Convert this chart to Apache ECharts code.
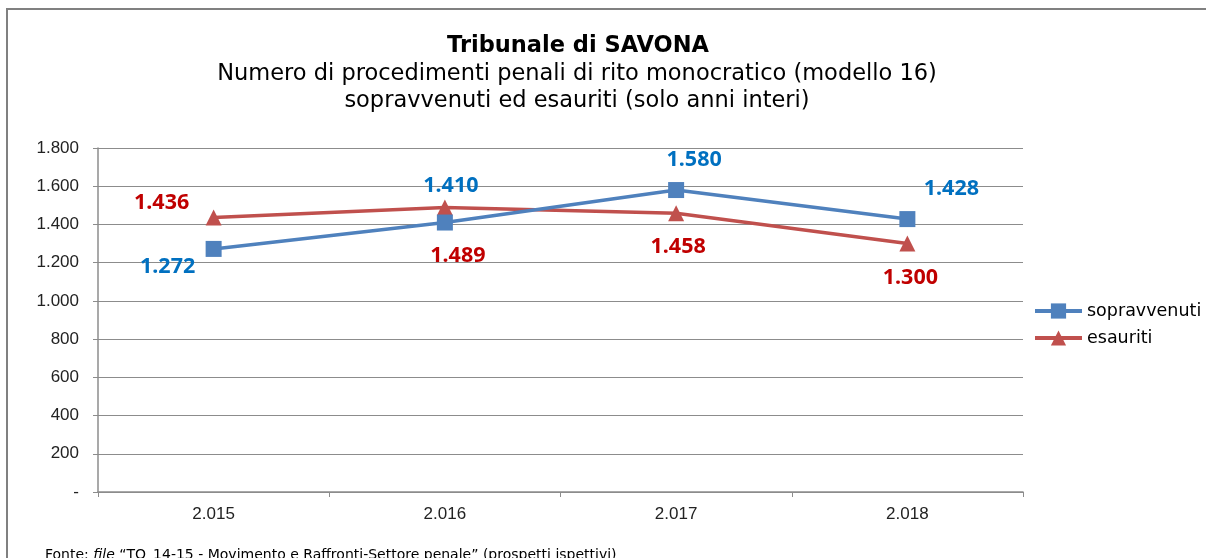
<!DOCTYPE html>
<html>
<head>
<meta charset="utf-8">
<title>Tribunale di SAVONA</title>
<script src="https://cdn.jsdelivr.net/npm/echarts@6/dist/echarts.min.js"></script>
<style>
  html, body { margin: 0; padding: 0; background: #fff; }
  #chart { width: 1206px; height: 558px; }
</style>
</head>
<body>
<div id="chart"></div>
<script>
// anni (etichette asse x)
var anni = ["2.015", "2.016", "2.017", "2.018"];
// procedimenti sopravvenuti ed esauriti
var sopravvenuti = [1272, 1410, 1580, 1428];
var esauriti = [1436, 1489, 1458, 1300];
// spostamento delle etichette rispetto al punto
var offSopr = [[-46, 18], [6, -37], [18, -30], [44, -30]];
var offEsau = [[-52, -15], [13, 48], [2, 34], [3, 34]];

function fmt(v) {
  if (v === 0) return "-";
  return String(v).replace(/\B(?=(\d{3})+(?!\d))/g, ".");
}

function punti(values, offsets) {
  return values.map(function (v, i) {
    return { value: v, label: { offset: offsets[i] } };
  });
}

var chart = echarts.init(document.getElementById("chart"));
var option = {
  animation: false,
  backgroundColor: "#fff",
  graphic: [
    {
      type: "rect",
      shape: { x: 7, y: 9, width: 1260, height: 620 },
      style: { fill: "none", stroke: "#808080", lineWidth: 2 },
      silent: true
    },
    {
      type: "text", x: 578, y: 46,
      style: {
        text: "Tribunale di SAVONA", align: "center", verticalAlign: "middle",
        font: "bold 22.5px 'DejaVu Sans'", fill: "#000"
      }
    },
    {
      type: "text", x: 577, y: 74,
      style: {
        text: "Numero di procedimenti penali di rito monocratico (modello 16)",
        align: "center", verticalAlign: "middle",
        font: "22.5px 'DejaVu Sans'", fill: "#000"
      }
    },
    {
      type: "text", x: 577, y: 101,
      style: {
        text: "sopravvenuti ed esauriti (solo anni interi)",
        align: "center", verticalAlign: "middle",
        font: "22.5px 'DejaVu Sans'", fill: "#000"
      }
    },
    {
      type: "text", x: 45, y: 555,
      style: {
        text: "Fonte: {i|file} \u201cTO_14-15 - Movimento e Raffronti-Settore penale\u201d (prospetti ispettivi)",
        verticalAlign: "middle",
        font: "14px 'DejaVu Sans'", fill: "#000",
        rich: { i: { fontStyle: "italic", fontFamily: "DejaVu Sans", fontSize: 14 } }
      }
    }
  ],
  legend: {
    orient: "vertical",
    left: 1028,
    top: 297,
    itemWidth: 47,
    itemHeight: 19,
    itemGap: 9,
    lineStyle: { width: 4 },
    textStyle: { fontFamily: "DejaVu Sans", fontSize: 17.5, color: "#000" },
    data: ["sopravvenuti", "esauriti"]
  },
  grid: { left: 98, right: 183, top: 148, bottom: 66, containLabel: false },
  xAxis: {
    type: "category",
    data: anni,
    boundaryGap: true,
    axisLine: { lineStyle: { color: "#8c8c8c", width: 1.5 } },
    axisTick: { show: true, length: 5, lineStyle: { color: "#8c8c8c" } },
    axisLabel: { fontFamily: "Liberation Sans", fontSize: 17, color: "#222", margin: 14 }
  },
  yAxis: {
    type: "value",
    min: 0,
    max: 1800,
    interval: 200,
    axisLine: { show: true, lineStyle: { color: "#8c8c8c", width: 1.5 } },
    axisTick: { show: true, length: 5, lineStyle: { color: "#8c8c8c" } },
    splitLine: { lineStyle: { color: "#8c8c8c", width: 1.2 } },
    axisLabel: {
      fontFamily: "Liberation Sans", fontSize: 17, color: "#222", margin: 19,
      formatter: fmt
    }
  },
  series: [
    {
      name: "sopravvenuti",
      type: "line",
      data: punti(sopravvenuti, offSopr),
      symbol: "rect",
      symbolSize: 16,
      color: "#4F81BD",
      lineStyle: { width: 3.5, color: "#4F81BD" },
      itemStyle: { color: "#4F81BD" },
      z: 3,
      label: {
        show: true, position: "inside",
        color: "#0070C0", fontFamily: "Noto Sans", fontWeight: "bold", fontSize: 21.5,
        formatter: function (p) { return fmt(p.value); }
      }
    },
    {
      name: "esauriti",
      type: "line",
      data: punti(esauriti, offEsau),
      symbol: "triangle",
      symbolSize: 16,
      color: "#C0504D",
      lineStyle: { width: 3.5, color: "#C0504D" },
      itemStyle: { color: "#C0504D" },
      z: 2,
      label: {
        show: true, position: "inside",
        color: "#C00000", fontFamily: "Noto Sans", fontWeight: "bold", fontSize: 21.5,
        formatter: function (p) { return fmt(p.value); }
      }
    }
  ]
};
chart.setOption(option);
window.addEventListener("resize", function () {
  chart.resize();
});
</script>
</body>
</html>
